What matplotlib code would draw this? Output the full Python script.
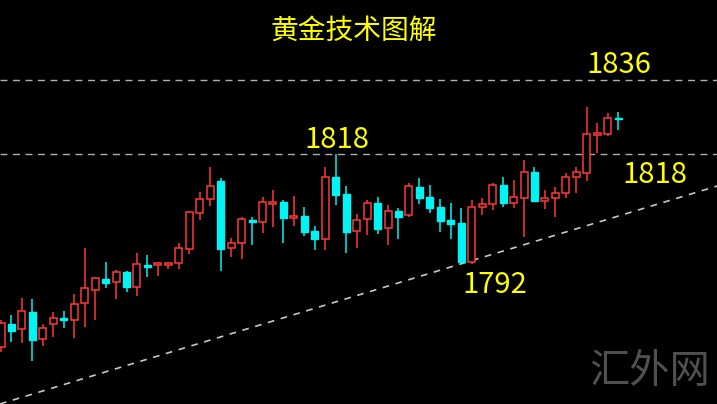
import matplotlib
matplotlib.use("Agg")
import matplotlib.pyplot as plt
from matplotlib.patches import Rectangle

plt.rcParams['font.family'] = ['Noto Sans CJK SC', 'DejaVu Sans']

# ---- data (prices) ----
opens = [1771.1, 1776.6, 1775.4, 1779.6, 1773.0, 1776.6, 1778.1, 1777.6, 1781.8, 1784.9,
         1787.6, 1786.9, 1789.3, 1785.6, 1791.0, 1791.0, 1790.9, 1791.5, 1794.9, 1803.6,
         1807.1, 1811.4, 1795.1, 1796.3, 1801.9, 1801.5, 1805.8, 1806.3, 1802.4, 1802.9,
         1799.3, 1797.3, 1812.4, 1808.3, 1799.3, 1802.2, 1806.1, 1800.0, 1804.1, 1803.2,
         1810.0, 1807.5, 1805.1, 1801.9, 1801.2, 1791.7, 1805.1, 1805.8, 1810.5, 1806.1,
         1807.3, 1813.6, 1806.6, 1807.3, 1808.5, 1812.4, 1813.4, 1822.6, 1822.9, 1826.8]
highs = [1777.6, 1778.8, 1783.0, 1782.7, 1776.6, 1779.6, 1779.8, 1783.9, 1795.1, 1788.1,
         1791.7, 1789.8, 1789.5, 1793.9, 1793.4, 1791.7, 1791.7, 1796.3, 1804.1, 1808.8,
         1814.8, 1812.2, 1797.6, 1802.7, 1802.7, 1807.5, 1809.2, 1806.8, 1807.8, 1805.1,
         1800.5, 1814.8, 1818.0, 1810.2, 1803.4, 1806.8, 1807.5, 1805.6, 1804.9, 1810.9,
         1812.2, 1810.5, 1807.1, 1806.1, 1804.9, 1806.8, 1807.3, 1810.9, 1812.4, 1811.7,
         1816.5, 1814.8, 1809.2, 1810.0, 1813.4, 1814.8, 1829.4, 1825.5, 1828.0, 1828.2]
lows = [1769.8, 1772.3, 1772.0, 1767.6, 1771.3, 1773.5, 1775.7, 1773.2, 1775.9, 1777.6,
        1785.4, 1782.7, 1784.4, 1783.5, 1788.1, 1788.3, 1790.0, 1790.0, 1793.7, 1801.9,
        1805.3, 1789.5, 1792.9, 1792.5, 1795.9, 1798.8, 1800.2, 1796.3, 1800.5, 1798.1,
        1794.6, 1794.6, 1805.6, 1793.9, 1795.1, 1798.3, 1798.5, 1795.9, 1797.3, 1802.7,
        1805.8, 1803.6, 1799.0, 1797.3, 1791.5, 1791.2, 1803.2, 1804.4, 1805.1, 1804.9,
        1797.8, 1806.3, 1804.6, 1802.7, 1807.3, 1808.5, 1811.4, 1818.2, 1822.4, 1823.8]
closes = [1776.9, 1774.9, 1779.8, 1772.8, 1775.7, 1778.1, 1777.6, 1781.5, 1785.4, 1787.8,
          1786.6, 1789.3, 1785.6, 1791.2, 1790.5, 1791.5, 1791.5, 1795.1, 1803.9, 1807.1,
          1810.2, 1794.9, 1796.3, 1802.2, 1801.5, 1806.3, 1806.3, 1802.4, 1802.9, 1799.0,
          1797.3, 1812.4, 1808.0, 1799.0, 1801.9, 1806.1, 1799.8, 1804.1, 1802.7, 1810.2,
          1807.3, 1804.9, 1801.7, 1801.0, 1791.7, 1805.1, 1805.8, 1810.5, 1806.1, 1807.5,
          1813.6, 1806.6, 1807.3, 1808.5, 1812.4, 1813.6, 1822.9, 1823.1, 1826.8, 1826.5]

levels = [1836, 1818]
level_labels = ["1836", "1818", "1818", "1792"]
title = "黄金技术图解"
watermark = "汇外网"
trend_prices = [1757.2, 1810.2]

# ---- figure ----
W, H = 717, 404
fig = plt.figure(figsize=(W / 100, H / 100), dpi=100, facecolor='black')
ax = fig.add_axes([0, 0, 1, 1])
ax.set_facecolor('black')
ax.set_xlim(0, W)
ax.set_ylim(1757.19, 1855.46)
ax.axis('off')

RED = '#ff3838'
CYAN = '#00f4f4'
x0, step, bw = 1.0, 10.46, 7.0
min_h = 0.45

for i, (o, h, l, c) in enumerate(zip(opens, highs, lows, closes)):
    x = x0 + i * step
    up = c >= o
    col = RED if up else CYAN
    ax.plot([x, x], [l, h], color=col, lw=1.1, zorder=2, solid_capstyle='butt')
    bot, top = min(o, c), max(o, c)
    if top - bot < min_h:
        mid = (top + bot) / 2
        bot, top = mid - min_h / 2, mid + min_h / 2
    if up:
        rect = Rectangle((x - bw / 2, bot), bw, top - bot, facecolor='black',
                         edgecolor=col, lw=1.1, zorder=3)
    else:
        rect = Rectangle((x - bw / 2, bot), bw, top - bot, facecolor=col,
                         edgecolor=col, lw=1.0, zorder=3)
    ax.add_patch(rect)

# horizontal dashed levels
for lv in levels:
    ax.plot([0, W], [lv, lv], color='#b0b0b0', lw=1.0, dashes=(5, 4), zorder=1)

# trendline
ax.plot([0, W], trend_prices, color='#c8c8c8', lw=1.2, dashes=(4, 4), zorder=1)

YEL = '#ffff00'
fs = 21
ax.text(354, 1848.0, title, color=YEL, fontsize=20, ha='center', va='center')
ax.text(619, 1839.6, level_labels[0], color=YEL, fontsize=fs, ha='center', va='center')
ax.text(337, 1821.5, level_labels[1], color=YEL, fontsize=fs, ha='center', va='center')
ax.text(655, 1812.9, level_labels[2], color=YEL, fontsize=fs, ha='center', va='center')
ax.text(495, 1786.1, level_labels[3], color=YEL, fontsize=fs, ha='center', va='center')

ax.text(650, 1765.0, watermark, color='#505050', fontsize=29, ha='center', va='center',
        fontweight='light')

fig.savefig('out.png', dpi=100, facecolor='black')
